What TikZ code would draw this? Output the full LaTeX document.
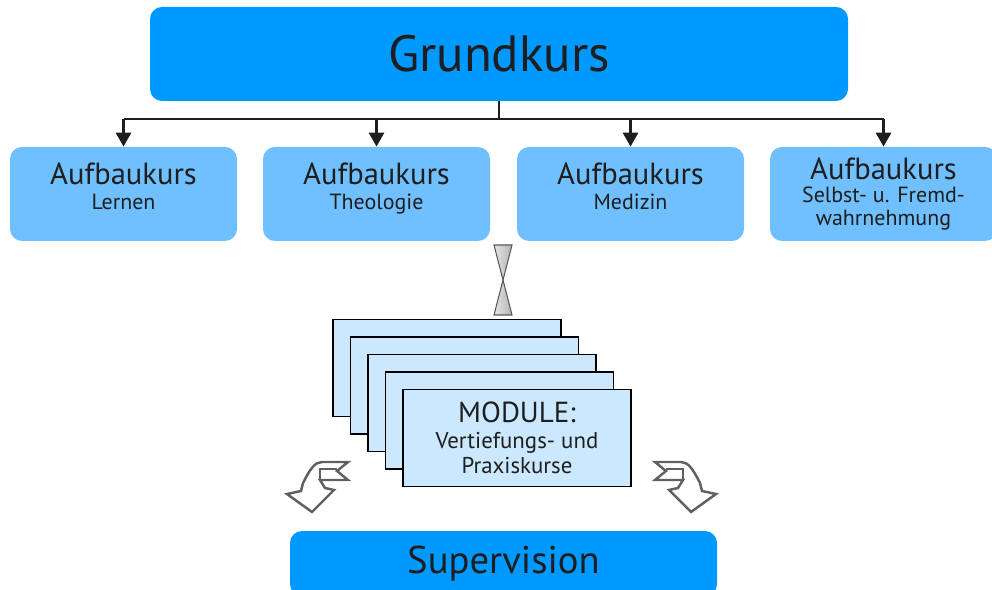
\documentclass[tikz,border=0pt]{standalone}
\usepackage{fontspec}
\setmainfont{PT Sans}
\usetikzlibrary{arrows.meta}

\definecolor{kursblau}{RGB}{0,153,255}
\definecolor{aufbaublau}{RGB}{112,192,255}
\definecolor{modulblau}{RGB}{204,232,255}
\definecolor{schrift}{RGB}{30,30,30}

\begin{document}
\begin{tikzpicture}
			\useasboundingbox (0,0) rectangle (19.84,11.78);
			\clip (0,0) rectangle (19.84,11.78);

			\begin{scope}[every node/.style={rectangle,rounded corners=0.24cm,fill=kursblau,text=schrift,inner sep=0pt}]
				\node (gk) [minimum width=13.96cm,minimum height=1.88cm,font=\fontsize{29}{30}\selectfont] at (9.98,10.7) {Grundkurs};
				\node (sv) [minimum width=8.54cm,minimum height=1.3cm,font=\fontsize{22}{23}\selectfont] at (10.07,0.51) {Supervision};
			\end{scope}

			\begin{scope}[every node/.style={rectangle,rounded corners=0.24cm,fill=aufbaublau,text=schrift,align=center,minimum width=4.54cm,minimum height=1.88cm,font=\fontsize{17.4}{19}\selectfont}]
				\node (ak1) at (2.47,7.9) {Aufbaukurs\\[-4.5pt]{\fontsize{12.5}{14}\selectfont Lernen}\\[-10pt]\mbox{}};
				\node (ak2) at (7.53,7.9) {Aufbaukurs\\[-4.5pt]{\fontsize{12.5}{14}\selectfont Theologie}\\[-10pt]\mbox{}};
				\node (ak3) at (12.61,7.9) {Aufbaukurs\\[-4.5pt]{\fontsize{12.5}{14}\selectfont Medizin}\\[-10pt]\mbox{}};
				\node (ak4) at (17.67,7.9) {Aufbaukurs\\[-5.5pt]{\fontsize{12.5}{14}\selectfont Selbst- u. Fremd-}\\[-6pt]{\fontsize{12.5}{14}\selectfont wahrnehmung}};
			\end{scope}

			\coordinate (bus) at (9.98,9.4);
			\begin{scope}[every edge/.style={draw=schrift,line width=1.6pt}]
				\path (gk.south) edge (bus);
				\path (ak1.north |- bus) edge (ak4.north |- bus);
				\path [-{Triangle[width=0.3cm,length=0.28cm]}] (ak1.north |- bus) edge (ak1.north);
				\path [-{Triangle[width=0.3cm,length=0.28cm]}] (ak2.north |- bus) edge (ak2.north);
				\path [-{Triangle[width=0.3cm,length=0.28cm]}] (ak3.north |- bus) edge (ak3.north);
				\path [-{Triangle[width=0.3cm,length=0.28cm]}] (ak4.north |- bus) edge (ak4.north);
			\end{scope}

			% Sanduhr
			\draw [draw=gray!70!black,left color=gray!20,right color=gray!60,line width=0.6pt]
				(9.88,6.88) -- (10.24,6.88) -- (10.06,6.18) -- cycle;
			\draw [draw=gray!70!black,left color=gray!20,right color=gray!60,line width=0.6pt]
				(10.06,6.18) -- (10.24,5.48) -- (9.88,5.48) -- cycle;

			% Modulstapel
			\begin{scope}[every node/.style={rectangle,draw=black,fill=modulblau,line width=0.6pt,minimum width=4.56cm,minimum height=1.94cm}]
				\foreach \i in {0,...,3}
					\node (mod\i) at (8.94+0.35*\i,4.42-0.35*\i) {};
				\node (mod4) [align=center,text=schrift,font=\fontsize{13}{14}\selectfont] at (10.34,3.02)
					{{\fontsize{16.5}{18}\selectfont MODULE:}\\[0.5pt]Vertiefungs- und\\[0.5pt]Praxiskurse};
			\end{scope}

			% gebogene Pfeile
			\foreach \s/\dx in {1/0,-1/20.06}{
				\begin{scope}[xshift=\dx cm,xscale=\s,draw=gray!75!black,line width=1.4pt,line join=miter]
					\draw [fill=white] (6.96,2.54) -- (6.74,2.36) -- (6.96,2.18) -- (6.40,2.18)
						-- (6.50,2.02) -- (6.68,1.98) -- (6.24,1.54) -- (5.74,1.90) -- (6.02,1.96)
						-- (6.06,2.12) .. controls (6.20,2.40) and (6.30,2.54) .. (6.44,2.54) -- cycle;
					\draw (6.40,2.18) -- (6.40,2.40) -- (6.74,2.40);
				\end{scope}
			}
		\end{tikzpicture}
\end{document}
